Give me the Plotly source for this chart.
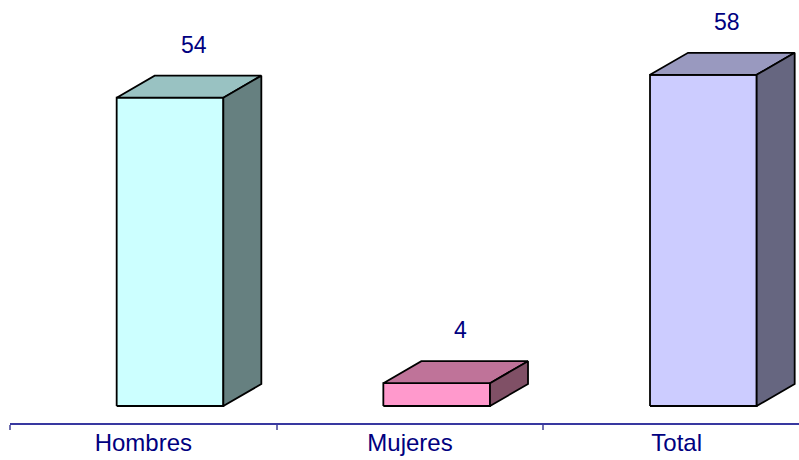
import plotly.graph_objects as go

categories = ["Hombres", "Mujeres", "Total"]
values = [54, 4, 58]
front_colors = ["#CCFFFF", "#FF99CC", "#CCCCFF"]
top_colors = ["#99C2C2", "#BF7399", "#9999BF"]
side_colors = ["#668080", "#805066", "#666680"]

# geometry (category units / value units)
x_left, x_right = -0.1, 0.3   # front face relative to category centre
dx = 0.1425                   # depth offset in category units
px_per_unit = 5.71
dy = 22 / px_per_unit         # depth offset in value units

fig = go.Figure()
for i, (cat, v) in enumerate(zip(categories, values)):
    x0, x1 = i + x_left, i + x_right
    polys = [
        ([x0, x1, x1, x0, x0], [0, 0, v, v, 0], front_colors[i]),
        ([x0, x1, x1 + dx, x0 + dx, x0], [v, v, v + dy, v + dy, v], top_colors[i]),
        ([x1, x1 + dx, x1 + dx, x1, x1], [0, dy, v + dy, v, 0], side_colors[i]),
    ]
    for xs, ys, col in polys:
        fig.add_trace(go.Scatter(
            x=xs, y=ys, mode="lines", fill="toself", fillcolor=col,
            line=dict(color="black", width=1.8), hoverinfo="skip", showlegend=False,
            cliponaxis=False,
        ))
    fig.add_annotation(
        x=i + (x_left + x_right) / 2 + 0.09, y=v, yshift=53, text=str(v),
        showarrow=False, font=dict(family="Liberation Sans, Arial", size=23, color="#000080"),
    )

plot_h = 423
y_bottom = -17 / px_per_unit
y_top = y_bottom + plot_h / px_per_unit
plot_w = 789
cat_px = 266.67

fig.update_layout(
    width=799, height=460,
    margin=dict(l=10, r=0, t=0, b=37),
    paper_bgcolor="white", plot_bgcolor="white",
    xaxis=dict(
        range=[-0.5, -0.5 + plot_w / cat_px],
        tickvals=list(range(len(categories))), ticktext=categories,
        ticks="", showgrid=False, zeroline=False,
        showline=True, linecolor="#3838A0", linewidth=2,
        ticklabelstandoff=-3,
        tickfont=dict(family="Liberation Sans, Arial", size=24, color="#000080"),
        minor=dict(tickvals=[-0.5, 0.5, 1.5, 2.5], ticks="outside", ticklen=5,
                   tickwidth=2, tickcolor="#7070B0", showgrid=False),
        fixedrange=True,
    ),
    yaxis=dict(range=[y_bottom, y_top], visible=False, showgrid=False, zeroline=False, fixedrange=True),
)

fig.write_html(
    "out.html",
    config={"displayModeBar": False},
    post_script="document.body.style.margin='0';document.body.style.overflow='hidden';",
)
